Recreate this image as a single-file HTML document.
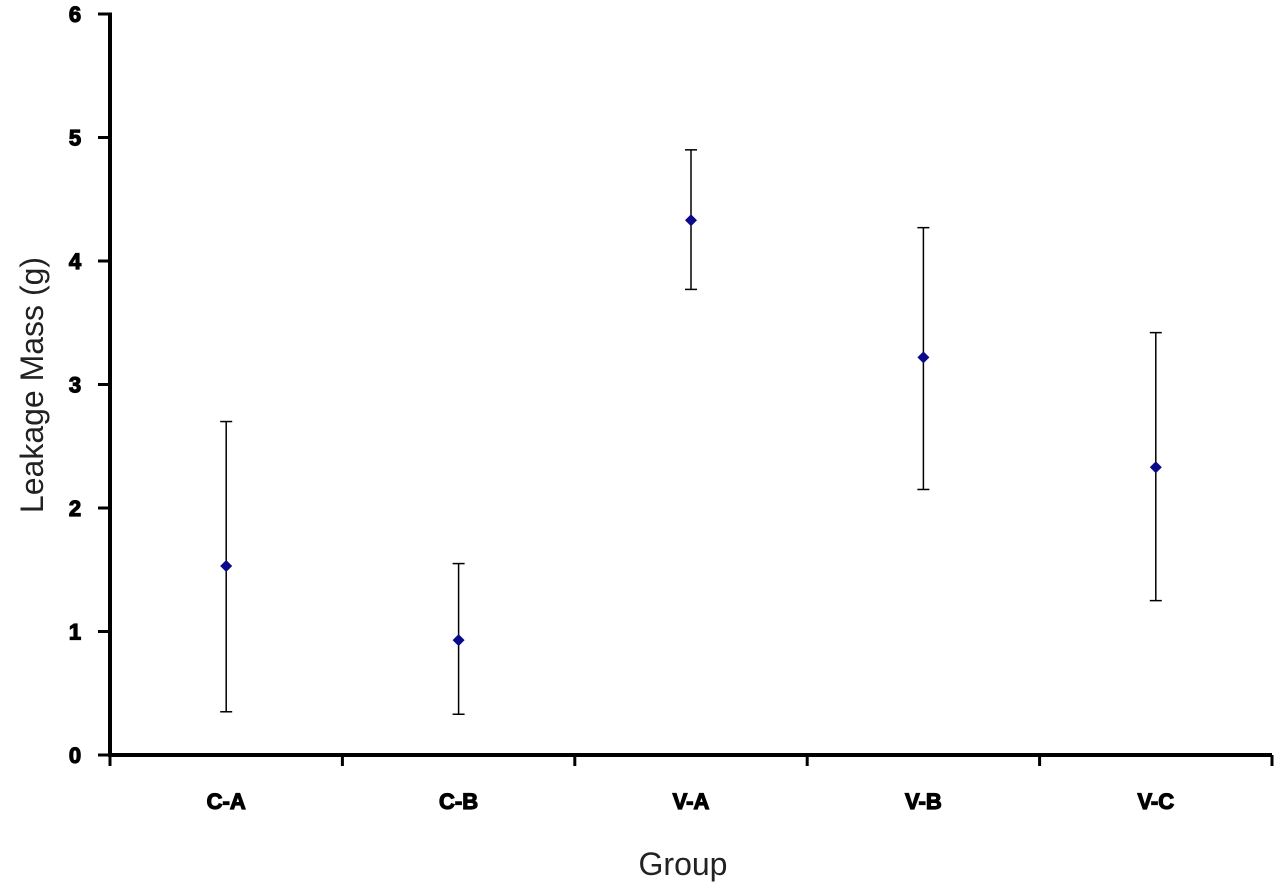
<!DOCTYPE html>
<html><head><meta charset="utf-8"><style>
html,body{margin:0;padding:0;background:#fff;}
svg{display:block;font-family:"Liberation Sans",Arial,sans-serif;}
</style></head><body>
<svg id="chart" width="1280" height="886" viewBox="0 0 1280 886" xmlns="http://www.w3.org/2000/svg">
<g id="axes"></g>
<g id="marks"></g>
<text transform="translate(43,385) rotate(-90)" text-anchor="middle" font-size="32" fill="#222">Leakage Mass (g)</text>
<text x="683" y="875" text-anchor="middle" font-size="32" fill="#222">Group</text>
</svg>
<script>
const categories = ["C-A","C-B","V-A","V-B","V-C"];
const means = [1.53, 0.93, 4.33, 3.22, 2.33];
const upper = [2.70, 1.55, 4.90, 4.27, 3.42];
const lower = [0.35, 0.33, 3.77, 2.15, 1.25];
const yTicks = [0,1,2,3,4,5,6];

const NS="http://www.w3.org/2000/svg";
const x0=110, x1=1272, y0=755, y6=14;
const y = v => y0 - (v/6)*(y0-y6);
const bw = (x1-x0)/categories.length;
const xc = i => x0 + bw*(i+0.5);
function mk(tag, attrs, parent){const e=document.createElementNS(NS,tag);for(const k in attrs)e.setAttribute(k,attrs[k]);parent.appendChild(e);return e;}
const axes=document.getElementById('axes'), marks=document.getElementById('marks');
let e;
e=mk('line',{x1:x0,y1:y6-1.5,x2:x0,y2:y0+2,stroke:'#000','stroke-width':4},axes);


e=mk('line',{x1:x0-2,y1:y0,x2:x1,y2:y0,stroke:'#000','stroke-width':4},axes);


yTicks.forEach(t=>{
  e=mk('line',{x1:x0-12,y1:y(t),x2:x0,y2:y(t),stroke:'#000','stroke-width':3},axes);
  
  
  e=mk('text',{x:75,y:y(t)+8,'text-anchor':'middle','font-size':22,'font-weight':'bold',fill:'#000',stroke:'#000','stroke-width':1.2},axes);
  e.textContent=t;
  
  
});
for(let i=0;i<=categories.length;i++){
  e=mk('line',{x1:x0+bw*i,y1:y0,x2:x0+bw*i,y2:y0+11,stroke:'#000','stroke-width':3},axes);
  
  
}
categories.forEach((c,i)=>{
  e=mk('text',{x:xc(i),y:809,'text-anchor':'middle','font-size':22,'font-weight':'bold',fill:'#000',stroke:'#000','stroke-width':1.2},axes);
  e.textContent=c;
  
  
  const cx=xc(i);
  e=mk('line',{x1:cx,y1:y(upper[i]),x2:cx,y2:y(lower[i]),stroke:'#000','stroke-width':1.5},marks);
  
  
  [upper[i],lower[i]].forEach(v=>{
    e=mk('line',{x1:cx-6,y1:y(v),x2:cx+6,y2:y(v),stroke:'#000','stroke-width':1.5},marks);
    
    
  });
  const cy=y(means[i]);
  e=mk('polygon',{points:`${cx},${cy-6} ${cx+6},${cy} ${cx},${cy+6} ${cx-6},${cy}`,fill:'#0a0a8a'},marks);
  
  
});
</script>
</body></html>
